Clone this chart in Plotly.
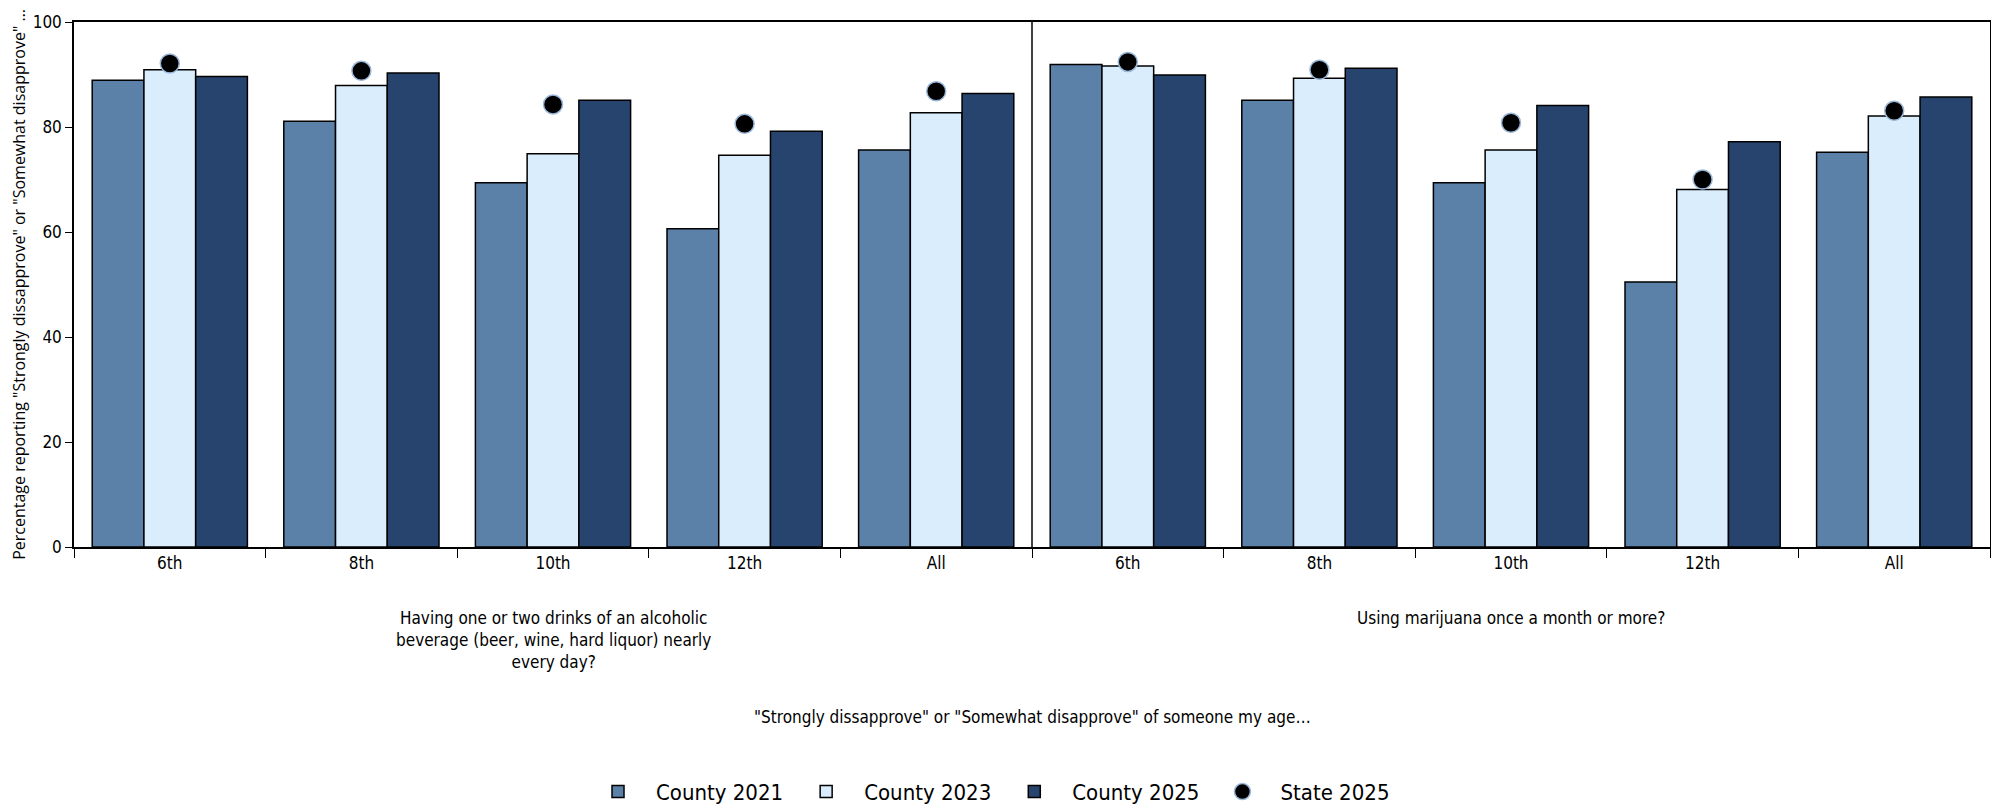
import plotly.graph_objects as go

# Categories
grades = ["6th", "8th", "10th", "12th", "All"]
alcohol_q = "Having one or two drinks of an alcoholic<br>beverage (beer, wine, hard liquor) nearly<br>every day?"
marijuana_q = "Using marijuana once a month or more?"
x_title = '"Strongly dissapprove" or "Somewhat disapprove" of someone my age…'
y_title = 'Percentage reporting "Strongly dissapprove" or "Somewhat disapprove" …'

# Values (percent)
alcohol_2021 = [88.9, 81.1, 69.4, 60.6, 75.6]
alcohol_2023 = [90.9, 87.9, 74.9, 74.6, 82.7]
alcohol_2025 = [89.6, 90.3, 85.1, 79.2, 86.4]
alcohol_state = [92.1, 90.7, 84.3, 80.6, 86.8]

marijuana_2021 = [91.9, 85.1, 69.4, 50.5, 75.2]
marijuana_2023 = [91.6, 89.3, 75.6, 68.1, 82.1]
marijuana_2025 = [89.9, 91.2, 84.1, 77.2, 85.7]
marijuana_state = [92.4, 90.9, 80.8, 70.0, 83.1]

COLORS = {"2021": "#5C81A9", "2023": "#DAEDFD", "2025": "#26446E"}
NARROW = "DejaVu Sans Condensed, Liberation Sans Narrow, Roboto, sans-serif"

# outer level kept blank on the axis; question text drawn as annotations below
x_outer = [" "] * len(grades) + ["  "] * len(grades)
x = [x_outer, grades + grades]

fig = go.Figure()
for name, vals, key in [
    ("County 2021", alcohol_2021 + marijuana_2021, "2021"),
    ("County 2023", alcohol_2023 + marijuana_2023, "2023"),
    ("County 2025", alcohol_2025 + marijuana_2025, "2025"),
]:
    fig.add_trace(go.Bar(
        name=name, x=x, y=vals,
        marker=dict(color=COLORS[key], line=dict(color="#000000", width=1.5)),
    ))

fig.add_trace(go.Scatter(
    name="State 2025", x=x, y=alcohol_state + marijuana_state, mode="markers",
    marker=dict(color="#000000", size=19, line=dict(color="#9BB8DA", width=1.5)),
))

# divider between the two questions, full plot height
fig.add_shape(type="line", xref="x", yref="paper", x0=4.5, x1=4.5, y0=0, y1=1,
              line=dict(color="#000000", width=1.5))

for qx, qtext in [(0.25, alcohol_q), (0.75, marijuana_q)]:
    fig.add_annotation(xref="paper", yref="paper", x=qx, y=-0.112, xanchor="center", yanchor="top",
                       text=qtext, showarrow=False, align="center",
                       font=dict(size=17, family=NARROW))

fig.add_annotation(xref="paper", yref="paper", x=0.5, y=-0.323, xanchor="center", yanchor="middle",
                   text=x_title, showarrow=False, font=dict(size=17, family=NARROW))

fig.update_layout(
    width=1999, height=808,
    paper_bgcolor="white", plot_bgcolor="white",
    margin=dict(l=66, r=17, t=14, b=269, autoexpand=False),
    barmode="group", bargap=0.19, bargroupgap=0,
    font=dict(family=NARROW, size=17, color="#000000"),
    showlegend=True,
    legend=dict(
        orientation="h", xref="container", yref="container",
        x=0.49, xanchor="center", y=0.03, yanchor="middle",
        font=dict(size=22, family=NARROW), itemwidth=66,
        traceorder="normal",
    ),
    xaxis=dict(
        type="multicategory", automargin=False, range=[-0.5, 9.5],
        showline=True, linecolor="#000000", linewidth=1.5, mirror=True,
        ticks="outside", ticklen=9, tickcolor="#000000",
        tickfont=dict(size=17, family=NARROW),
        showdividers=False, showgrid=False,
    ),
    yaxis=dict(
        range=[0, 100], tickvals=[0, 20, 40, 60, 80, 100], automargin=False,
        showline=True, linecolor="#000000", linewidth=1.5, mirror=True,
        ticks="outside", ticklen=7, tickcolor="#000000",
        tickfont=dict(size=17, family=NARROW),
        showgrid=False, zeroline=False,
        title=dict(text=y_title, font=dict(size=16, family="Open Sans, sans-serif"), standoff=6),
    ),
)

fig.write_html("out.html")
